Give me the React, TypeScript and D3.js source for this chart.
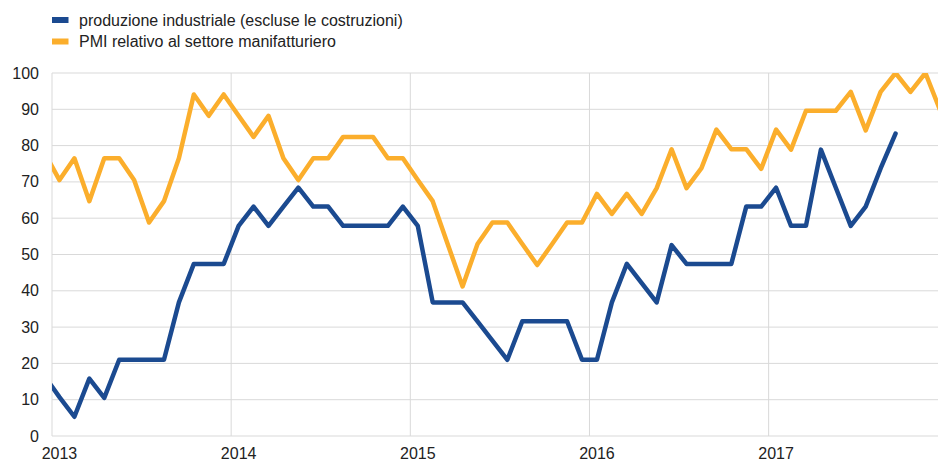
import React from "react";
import * as d3 from "d3";

// Monthly data from Dec 2012 (index -1) onwards
const startMonthIndex = -1; // Dec 2012
const industrialProduction = [
  16.5,
  10.7, 5.3, 15.8, 10.5, 21, 21, 21, 21, 36.8, 47.4, 47.4, 47.4,
  57.9, 63.2, 57.9, 63.2, 68.4, 63.2, 63.2, 57.9, 57.9, 57.9, 57.9, 63.2,
  57.9, 36.8, 36.8, 36.8, 31.6, 26.3, 21, 31.6, 31.6, 31.6, 31.6, 21,
  21, 36.8, 47.4, 42.1, 36.8, 52.6, 47.4, 47.4, 47.4, 47.4, 63.2, 63.2,
  68.4, 57.9, 57.9, 78.9, 68.4, 57.9, 63.2, 73.7, 83.3,
];
const pmiManufacturing = [
  78,
  70.5, 76.5, 64.7, 76.5, 76.5, 70.5, 58.8, 64.7, 76.5, 94.1, 88.2, 94.1,
  88.2, 82.4, 88.2, 76.5, 70.5, 76.5, 76.5, 82.4, 82.4, 82.4, 76.5, 76.5,
  70.5, 64.7, 52.9, 41.2, 52.9, 58.8, 58.8, 52.9, 47.1, 52.9, 58.8, 58.8,
  66.7, 61.2, 66.7, 61.2, 68.3, 79, 68.3, 73.8, 84.4, 79, 79, 73.6,
  84.4, 78.9, 89.6, 89.6, 89.6, 94.8, 84.2, 94.8, 100, 94.8, 100, 89.6,
];
const yearLabels = ["2013", "2014", "2015", "2016", "2017"];
const yTicks = [0, 10, 20, 30, 40, 50, 60, 70, 80, 90, 100];
const seriesNames = [
  "produzione industriale (escluse le costruzioni)",
  "PMI relativo al settore manifatturiero",
];

const BLUE = "#1b4a90";
const ORANGE = "#fbae2c";
const GRID = "#d9d9d9";
const FONT = "'Liberation Sans', Arial, sans-serif";

export default function App() {
  const W = 938;
  const H = 461;
  const left = 52;
  const top = 73;
  const bottom = 436;
  const monthW = 14.93;
  const x = d3.scaleLinear().domain([0, 60]).range([left, left + 60 * monthW]);
  const y = d3.scaleLinear().domain([0, 100]).range([bottom, top]);

  const mkLine = d3
    .line<number>()
    .x((_, i) => x(startMonthIndex + i + 0.5))
    .y((d) => y(d));

  const series = [
    { name: seriesNames[0], values: industrialProduction, color: BLUE },
    { name: seriesNames[1], values: pmiManufacturing, color: ORANGE },
  ];

  return (
    <svg
      width={W}
      height={H}
      style={{ position: "fixed", left: 0, top: 0, display: "block", background: "#fff" }}
      fontFamily={FONT}
    >
      <defs>
        <clipPath id="plotClip">
          <rect x={left} y={top} width={W - left} height={bottom - top} />
        </clipPath>
      </defs>
      {/* horizontal grid */}
      {yTicks.map((t) => (
        <line key={"h" + t} x1={left} x2={W} y1={y(t)} y2={y(t)} stroke={GRID} strokeWidth={1} />
      ))}
      {/* vertical grid at years */}
      {yearLabels.map((lab, i) => (
        <line
          key={"v" + lab}
          x1={x(i * 12)}
          x2={x(i * 12)}
          y1={top}
          y2={bottom}
          stroke={GRID}
          strokeWidth={1}
        />
      ))}
      {/* y tick labels */}
      {yTicks.map((t) => (
        <text
          key={"yl" + t}
          x={39}
          y={y(t)}
          textAnchor="end"
          dominantBaseline="central"
          fontSize={16}
          fill="#222"
        >
          {t}
        </text>
      ))}
      {/* x labels */}
      {yearLabels.map((lab, i) => (
        <text
          key={"xl" + lab}
          x={x(i * 12 + 0.5)}
          y={458.5}
          textAnchor="middle"
          fontSize={16}
          fill="#222"
        >
          {lab}
        </text>
      ))}
      {/* lines */}
      <g clipPath="url(#plotClip)">
        {series.map((s) => (
          <path
            key={s.name}
            d={mkLine(s.values) || ""}
            fill="none"
            stroke={s.color}
            strokeWidth={4.5}
            strokeLinejoin="round"
            strokeLinecap="round"
          />
        ))}
      </g>
      {/* legend */}
      {series.map((s, i) => (
        <g key={"lg" + i} transform={`translate(52, ${17 + i * 21.5})`}>
          <rect x={0} y={0} width={16.5} height={6} fill={s.color} />
          <text x={27} y={3} dominantBaseline="central" fontSize={16} fill="#222">
            {s.name}
          </text>
        </g>
      ))}
    </svg>
  );
}
